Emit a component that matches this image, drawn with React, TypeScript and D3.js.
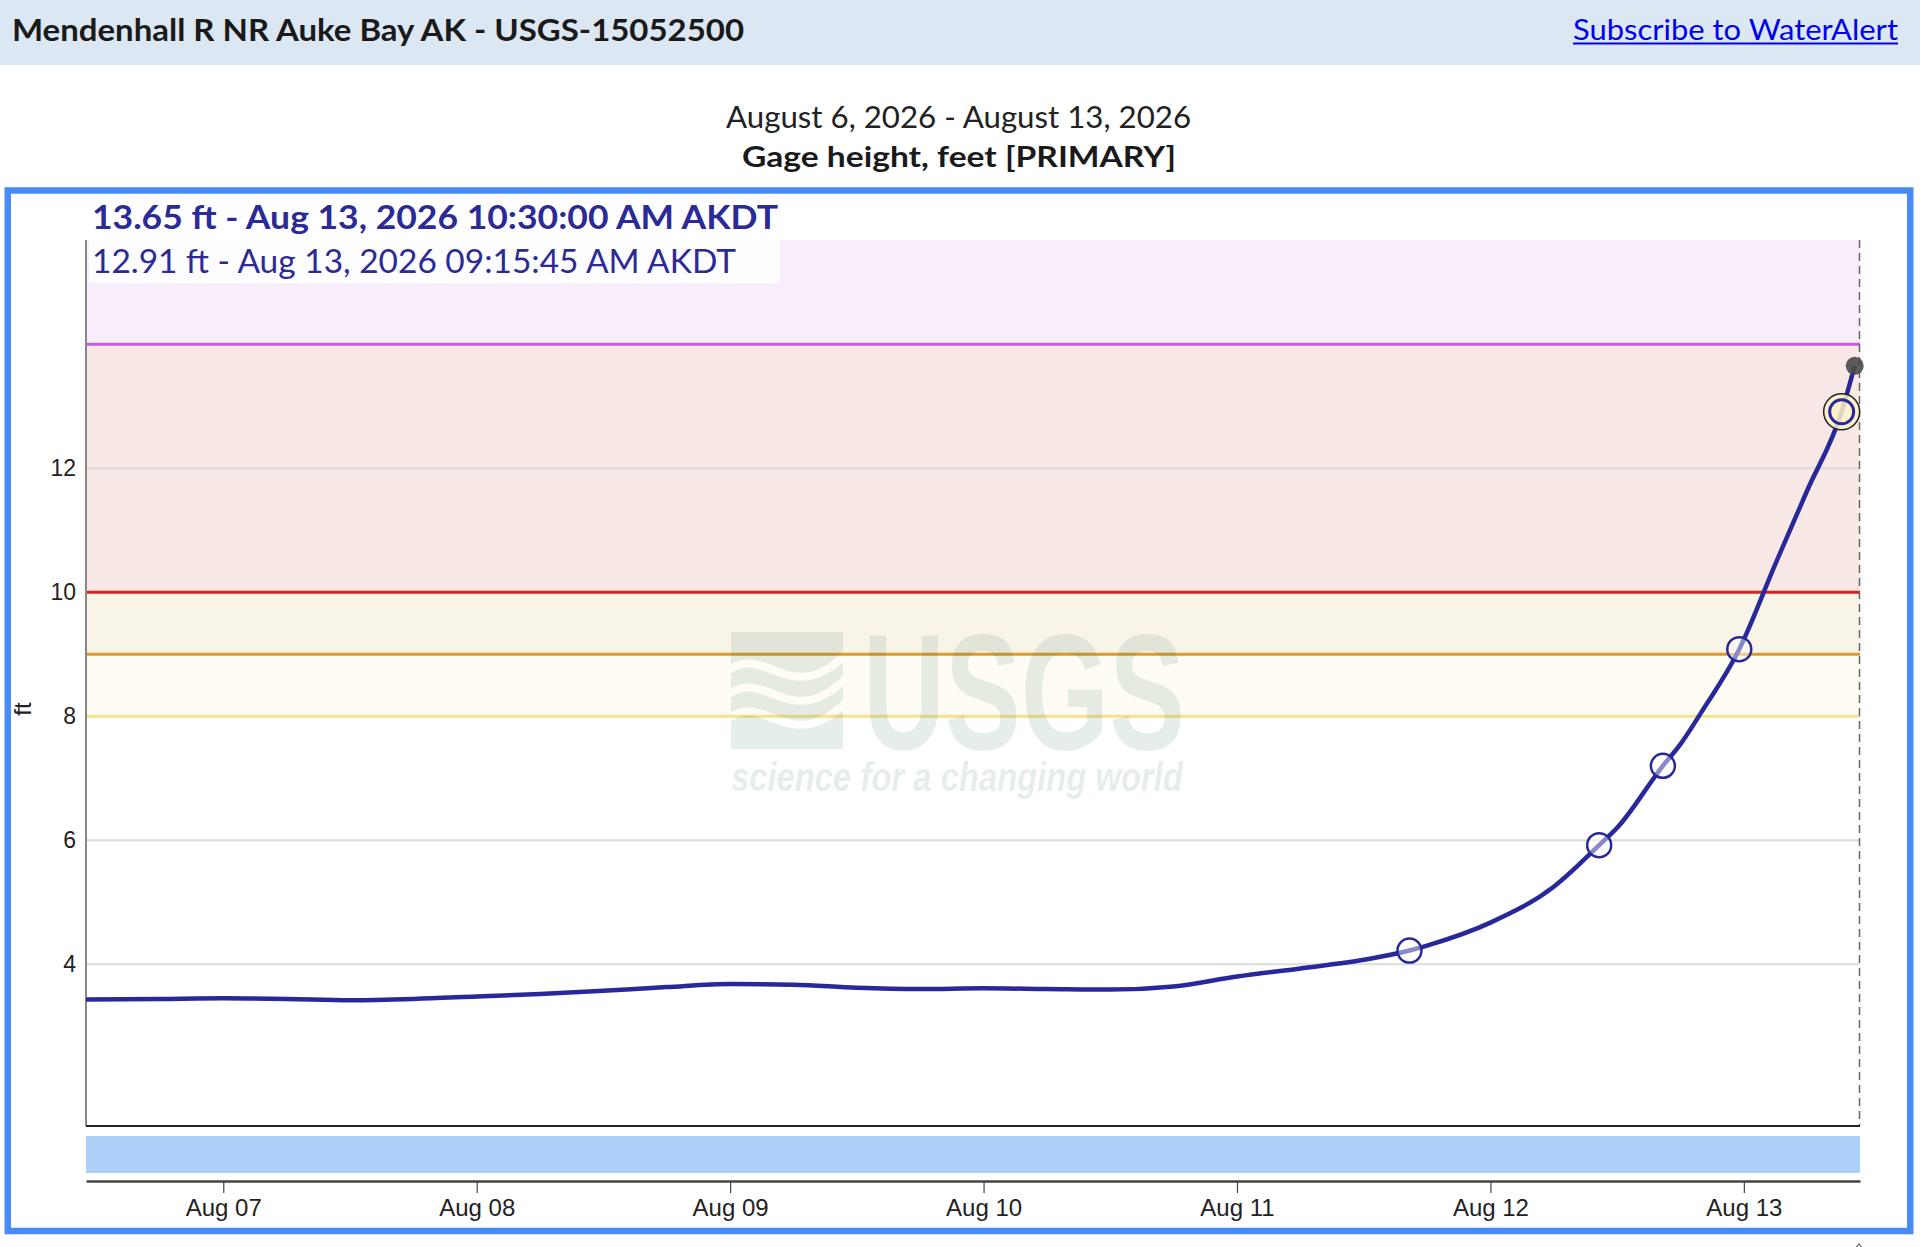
import React, { useEffect, useRef } from 'react';
import * as d3 from 'd3';

// header / titles
const stationTitle = 'Mendenhall R NR Auke Bay AK - USGS-15052500';
const alertLink = 'Subscribe to WaterAlert';
const dateRangeLabel = 'August 6, 2026 - August 13, 2026';
const parameterLabel = 'Gage height, feet [PRIMARY]';
const unitLabel = 'ft';
const tzLabel = 'AKDT';

// gage height series (local time, ft)
const gageTimes = [
  '2026-08-06T11:00:00', '2026-08-06T18:00:00', '2026-08-07T00:00:00', '2026-08-07T06:00:00',
  '2026-08-07T12:00:00', '2026-08-07T18:00:00', '2026-08-08T00:00:00', '2026-08-08T06:00:00',
  '2026-08-08T12:00:00', '2026-08-08T18:00:00', '2026-08-09T00:00:00', '2026-08-09T06:00:00',
  '2026-08-09T12:00:00', '2026-08-09T18:00:00', '2026-08-10T00:00:00', '2026-08-10T06:00:00',
  '2026-08-10T12:00:00', '2026-08-10T18:00:00', '2026-08-11T00:00:00', '2026-08-11T06:00:00',
  '2026-08-11T12:00:00', '2026-08-11T16:20:00', '2026-08-11T18:00:00', '2026-08-12T00:00:00',
  '2026-08-12T06:00:00', '2026-08-12T10:18:00', '2026-08-12T12:00:00', '2026-08-12T16:20:00',
  '2026-08-12T18:00:00', '2026-08-12T20:00:00', '2026-08-12T23:34:00', '2026-08-13T03:00:00',
  '2026-08-13T06:00:00', '2026-08-13T09:15:45', '2026-08-13T10:30:00',
];
const gageHeights = [
  3.43, 3.44, 3.45, 3.44,
  3.42, 3.44, 3.48, 3.52,
  3.57, 3.63, 3.68, 3.67,
  3.62, 3.60, 3.61, 3.60,
  3.59, 3.64, 3.80, 3.93,
  4.07, 4.22, 4.30, 4.67,
  5.25, 5.92, 6.20, 7.20,
  7.55, 8.07, 9.08, 10.46,
  11.64, 12.91, 13.65,
];

// hollow markers on the series
const markerTimes = ['2026-08-11T16:20:00', '2026-08-12T10:18:00', '2026-08-12T16:20:00', '2026-08-12T23:34:00'];
const markerHeights = [4.22, 5.92, 7.20, 9.08];

// latest reading and the hovered reading
const latestTime = '2026-08-13T10:30:00';
const latestHeight = 13.65;
const focusTime = '2026-08-13T09:15:45';
const focusHeight = 12.91;

// flood stage thresholds (ft) and their colours
const stageLevels = [8, 9, 10, 14];
const stageLineColors = ['#f6e18c', '#dd9b2a', '#d3261f', '#c95de5'];
const stageBandFills = ['#fefcf3', '#f9f4e8', '#f9e9e6', '#f8edfa'];

const yTicks = [4, 6, 8, 10, 12];
const yDomain = [1.39, 15.68];
const xDomain = ['2026-08-06T11:00:00', '2026-08-13T11:00:00'];

const UI_FONT = "Lato, 'Open Sans', sans-serif";
const AXIS_FONT = "'Liberation Sans', Arial, sans-serif";
const SERIES_COLOR = '#28289b';

const parseTime = (s: string) => new Date(s + 'Z');
const fmtStamp = d3.utcFormat('%b %d, %Y %I:%M:%S %p');

const GageChart: React.FC = () => {
  const svgRef = useRef<SVGSVGElement | null>(null);

  useEffect(() => {
    if (!svgRef.current) return;

    const width = 1920;
    const height = 1247;
    const plotLeft = 86;
    const plotRight = 1860;
    const plotTop = 240;
    const plotBottom = 1126;

    const x = d3.scaleUtc()
      .domain(xDomain.map(parseTime))
      .range([plotLeft, plotRight]);

    const y = d3.scaleLinear()
      .domain(yDomain)
      .range([plotBottom, plotTop]);

    const svg = d3.select(svgRef.current)
      .attr('width', width)
      .attr('height', height)
      .attr('viewBox', [0, 0, width, height].join(' '));

    svg.selectAll('*').remove();

    svg.append('rect').attr('width', width).attr('height', height).attr('fill', '#fff');

    // header band
    svg.append('rect').attr('width', width).attr('height', 65).attr('fill', '#dce7f4');
    svg.append('text')
      .attr('x', 12).attr('y', 40.5)
      .attr('font-family', UI_FONT).attr('font-weight', 700).attr('font-size', 30)
      .attr('fill', '#1a1a1a')
      .attr('textLength', 732).attr('lengthAdjust', 'spacingAndGlyphs')
      .text(stationTitle);
    svg.append('text')
      .attr('x', 1573).attr('y', 39.5)
      .attr('font-family', UI_FONT).attr('font-size', 29)
      .attr('fill', '#0000ee')
      .attr('textLength', 325).attr('lengthAdjust', 'spacingAndGlyphs')
      .text(alertLink);
    svg.append('line')
      .attr('x1', 1573).attr('x2', 1898).attr('y1', 43.5).attr('y2', 43.5)
      .attr('stroke', '#0000ee').attr('stroke-width', 1.8);

    // chart titles
    svg.append('text')
      .attr('x', 958.5).attr('y', 127.5).attr('text-anchor', 'middle')
      .attr('font-family', UI_FONT).attr('font-size', 30).attr('fill', '#222')
      .attr('textLength', 465).attr('lengthAdjust', 'spacingAndGlyphs')
      .text(dateRangeLabel);
    svg.append('text')
      .attr('x', 959).attr('y', 166.5).attr('text-anchor', 'middle')
      .attr('font-family', UI_FONT).attr('font-weight', 700).attr('font-size', 29).attr('fill', '#1a1a1a')
      .attr('textLength', 434).attr('lengthAdjust', 'spacingAndGlyphs')
      .text(parameterLabel);

    // flood stage bands
    const bandEdges = [...stageLevels, yDomain[1]];
    svg.append('g')
      .selectAll('rect')
      .data(stageBandFills)
      .join('rect')
      .attr('x', plotLeft)
      .attr('width', plotRight - plotLeft)
      .attr('y', (d, i) => y(bandEdges[i + 1]))
      .attr('height', (d, i) => y(bandEdges[i]) - y(bandEdges[i + 1]))
      .attr('fill', d => d);

    // gridlines
    svg.append('g')
      .selectAll('line')
      .data(yTicks)
      .join('line')
      .attr('x1', plotLeft).attr('x2', plotRight)
      .attr('y1', d => y(d)).attr('y2', d => y(d))
      .attr('stroke', '#dcdcdc').attr('stroke-width', 2);

    // stage lines
    svg.append('g')
      .selectAll('line')
      .data(stageLevels)
      .join('line')
      .attr('x1', plotLeft).attr('x2', plotRight)
      .attr('y1', d => y(d)).attr('y2', d => y(d))
      .attr('stroke', (d, i) => stageLineColors[i]).attr('stroke-width', 3);

    // USGS watermark
    const defs = svg.append('defs');
    const mask = defs.append('mask').attr('id', 'logo-mask');
    mask.append('rect').attr('x', 725).attr('y', 625).attr('width', 125).attr('height', 130).attr('fill', '#fff');
    [0, 24, 48].forEach(o => {
      mask.append('path')
        .attr('d', `M 726 ${672 + o} C 765 ${640 + o}, 790 ${712 + o}, 848 ${652 + o}`)
        .attr('fill', 'none').attr('stroke', '#000').attr('stroke-width', 8);
    });
    const wm = svg.append('g').attr('fill', 'rgb(25,95,75)').attr('opacity', 0.1);
    wm.append('rect')
      .attr('x', 731).attr('y', 632).attr('width', 112).attr('height', 117)
      .attr('mask', 'url(#logo-mask)');
    wm.append('text')
      .attr('x', 863).attr('y', 749)
      .attr('font-family', AXIS_FONT).attr('font-weight', 700).attr('font-size', 165)
      .attr('textLength', 322).attr('lengthAdjust', 'spacingAndGlyphs')
      .text('USGS');
    wm.append('text')
      .attr('x', 731).attr('y', 791)
      .attr('font-family', AXIS_FONT).attr('font-weight', 700).attr('font-style', 'italic').attr('font-size', 40)
      .attr('textLength', 452).attr('lengthAdjust', 'spacingAndGlyphs')
      .text('science for a changing world');

    // plot frame
    svg.append('line')
      .attr('x1', plotLeft).attr('x2', plotLeft).attr('y1', plotTop).attr('y2', plotBottom)
      .attr('stroke', '#888').attr('stroke-width', 2);
    svg.append('line')
      .attr('x1', plotRight - 0.5).attr('x2', plotRight - 0.5).attr('y1', plotTop).attr('y2', plotBottom)
      .attr('stroke', '#666').attr('stroke-width', 1.5).attr('stroke-dasharray', '8,5');
    svg.append('line')
      .attr('x1', plotLeft).attr('x2', plotRight).attr('y1', plotBottom).attr('y2', plotBottom)
      .attr('stroke', '#222').attr('stroke-width', 2);

    // y tick labels
    svg.append('g')
      .selectAll('text')
      .data(yTicks)
      .join('text')
      .attr('x', 76).attr('y', d => y(d)).attr('dy', '0.35em')
      .attr('text-anchor', 'end')
      .attr('font-family', AXIS_FONT).attr('font-size', 23).attr('fill', '#222')
      .text(d => d);
    svg.append('text')
      .attr('transform', 'translate(23,709) rotate(-90)')
      .attr('text-anchor', 'middle').attr('dy', '0.35em')
      .attr('font-family', AXIS_FONT).attr('font-size', 24).attr('fill', '#222')
      .text(unitLabel);

    // series line
    const points = gageTimes.map((t, i) => [parseTime(t), gageHeights[i]] as [Date, number]);
    const line = d3.line<[Date, number]>()
      .x(d => x(d[0]))
      .y(d => y(d[1]))
      .curve(d3.curveMonotoneX);
    svg.append('path')
      .datum(points)
      .attr('d', line)
      .attr('fill', 'none')
      .attr('stroke', SERIES_COLOR)
      .attr('stroke-width', 4.5)
      .attr('stroke-linejoin', 'round');

    svg.append('g')
      .selectAll('circle')
      .data(markerTimes)
      .join('circle')
      .attr('cx', d => x(parseTime(d)))
      .attr('cy', (d, i) => y(markerHeights[i]))
      .attr('r', 12)
      .attr('fill', '#fff').attr('fill-opacity', 0.45)
      .attr('stroke', SERIES_COLOR).attr('stroke-width', 2.5);

    // hovered point
    const fx = x(parseTime(focusTime));
    const fy = y(focusHeight);
    svg.append('circle')
      .attr('cx', fx).attr('cy', fy).attr('r', 18)
      .attr('fill', '#fbf3c6').attr('fill-opacity', 0.85)
      .attr('stroke', '#222').attr('stroke-width', 1.5);
    svg.append('circle')
      .attr('cx', fx).attr('cy', fy).attr('r', 12)
      .attr('fill', 'none')
      .attr('stroke', SERIES_COLOR).attr('stroke-width', 3);

    // latest point
    svg.append('circle')
      .attr('cx', x(parseTime(latestTime))).attr('cy', y(latestHeight)).attr('r', 9)
      .attr('fill', '#4a4a4a').attr('opacity', 0.9);

    // tooltip text
    svg.append('rect')
      .attr('x', 89).attr('y', plotTop).attr('width', 691).attr('height', 43)
      .attr('fill', '#fff').attr('opacity', 0.85);
    svg.append('text')
      .attr('x', 92).attr('y', 229)
      .attr('font-family', UI_FONT).attr('font-weight', 700).attr('font-size', 32)
      .attr('fill', '#2b2a96')
      .attr('textLength', 686).attr('lengthAdjust', 'spacingAndGlyphs')
      .text(`${latestHeight.toFixed(2)} ft - ${fmtStamp(parseTime(latestTime))} ${tzLabel}`);
    svg.append('text')
      .attr('x', 92).attr('y', 273)
      .attr('font-family', UI_FONT).attr('font-size', 33)
      .attr('fill', '#2b2a96')
      .attr('textLength', 644).attr('lengthAdjust', 'spacingAndGlyphs')
      .text(`${focusHeight.toFixed(2)} ft - ${fmtStamp(parseTime(focusTime))} ${tzLabel}`);

    // brush strip
    svg.append('rect')
      .attr('x', plotLeft).attr('y', 1136).attr('width', plotRight - plotLeft).attr('height', 37)
      .attr('fill', '#acd0f8');

    // x axis
    const xAxis = svg.append('g')
      .attr('transform', 'translate(0,1181)')
      .call(
        d3.axisBottom(x)
          .ticks(d3.utcDay.every(1))
          .tickFormat(d3.utcFormat('%b %d') as any)
          .tickSize(12)
          .tickSizeOuter(0)
          .tickPadding(6)
      );
    xAxis.select('.domain').attr('stroke', '#444').attr('stroke-width', 2.5);
    xAxis.selectAll('.tick line').attr('stroke', '#444').attr('stroke-width', 1.2);
    xAxis.selectAll('.tick text')
      .attr('font-family', AXIS_FONT).attr('font-size', 24).attr('fill', '#222');

    // outer chart border
    svg.append('rect')
      .attr('x', 7.75).attr('y', 190.5).attr('width', 1902.5).attr('height', 1040.5)
      .attr('fill', 'none').attr('stroke', '#468cf4').attr('stroke-width', 6.5);

    svg.append('path')
      .attr('d', 'M 1855 1249 L 1859 1244 L 1863 1249')
      .attr('fill', 'none').attr('stroke', '#666').attr('stroke-width', 1.2);
  }, []);

  return (
    <div style={{ position: 'absolute', left: 0, top: 0 }}>
      <svg ref={svgRef} style={{ display: 'block' }}></svg>
    </div>
  );
};

export default function App() {
  return <GageChart />;
}
